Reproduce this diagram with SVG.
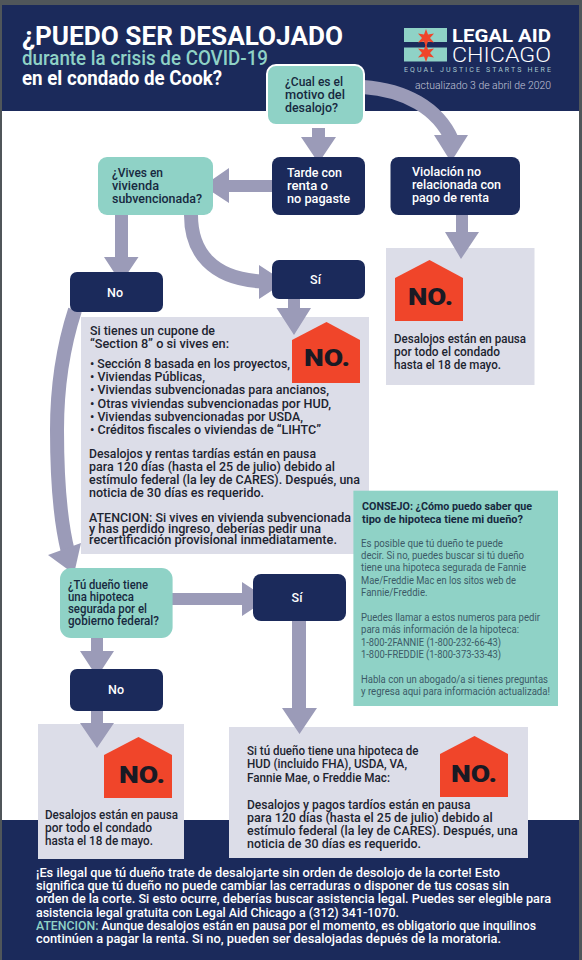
<svg xmlns="http://www.w3.org/2000/svg" width="582" height="960" viewBox="0 0 582 960">
<defs><style>
text{font-family:Roboto,"Liberation Sans",sans-serif;font-weight:500;font-size:12.500px;}
.navy{fill:#1b2a5b}
.teal{fill:#8fd2c6}
.panel{fill:#dcdde8}
.house{fill:#f0452a}
.a{fill:#9b9bb8}
.c{fill:none;stroke:#9b9bb8;stroke-width:14}
.w{fill:#fff}
.d{fill:#17293f}
.k{fill:#1d2430}
.no{font-size:24px;font-weight:900;fill:#191a24}
.tip{font-size:10.5px;font-weight:400;fill:#3c5a66}
.tb{font-size:11.5px;font-weight:700;fill:#17293f}
.f{font-size:12.5px;fill:#fff}
</style>
<g id="houseShape"><polygon class="house" points="0,18 34.500,0 68,18 68,61 0,61"/></g>
</defs>
<rect width="582" height="960" fill="#50565a"/>
<rect x="2" y="5" width="577" height="955" fill="#fff"/>

<g id="header">
<rect class="navy" x="2" y="5" width="577" height="106"/>
<text x="22" y="45" style="font-size:26px;font-weight:700" class="w" textLength="321" lengthAdjust="spacingAndGlyphs">¿PUEDO SER DESALOJADO</text>
<text x="22" y="65" style="font-size:20px;font-weight:500" fill="#8fd2c6" textLength="246" lengthAdjust="spacingAndGlyphs">durante la crisis de COVID-19</text>
<text x="22" y="85" style="font-size:20px;font-weight:700" class="w" textLength="200" lengthAdjust="spacingAndGlyphs">en el condado de Cook?</text>
</g>

<g id="logo">
<rect class="teal" x="404" y="28" width="43" height="14"/>
<rect class="teal" x="404" y="47.500" width="43" height="14"/>
<polygon class="house" points="426,29 428,34.500 434,33.500 430,38 434,42.500 428,41.500 426,47 424,41.500 418,42.500 422,38 418,33.500 424,34.500"/>
<polygon class="house" points="426,44 428,49.500 434,48.500 430,53 434,57.500 428,56.500 426,62 424,56.500 418,57.500 422,53 418,48.500 424,49.500"/>
<text x="452" y="42" style="font-size:19px;font-weight:700" class="w" textLength="99" lengthAdjust="spacingAndGlyphs">LEGAL AID</text>
<text x="452" y="62" style="font-size:20px;font-weight:300" class="w" textLength="99" lengthAdjust="spacingAndGlyphs">CHICAGO</text>
<text x="404" y="72" style="font-size:7px;font-weight:400" fill="#a9c9cf" textLength="147">EQUAL JUSTICE STARTS HERE</text>
<text x="415" y="89" style="font-size:11px;font-weight:300" fill="#c3c6d8" textLength="136" lengthAdjust="spacingAndGlyphs">actualizado 3 de abril de 2020</text>
</g>

<g id="footer">
<rect class="navy" x="2" y="820" width="577" height="140"/>
<text class="f" x="36" y="877" textLength="464" lengthAdjust="spacingAndGlyphs">¡Es ilegal que tú dueño trate de desalojarte sin orden de desolojo de la corte! Esto</text>
<text class="f" x="36" y="890" textLength="473" lengthAdjust="spacingAndGlyphs">significa que tú  dueño no puede cambiar las cerraduras o disponer de tus cosas sin</text>
<text class="f" x="36" y="903" textLength="515" lengthAdjust="spacingAndGlyphs">orden de la corte. Si esto ocurre, deberías buscar asistencia legal. Puedes ser elegible para</text>
<text class="f" x="36" y="916.500" textLength="363" lengthAdjust="spacingAndGlyphs">asistencia legal gratuita con Legal Aid Chicago a (312) 341-1070.</text>
<text class="f" x="36" y="929.700" textLength="500" lengthAdjust="spacingAndGlyphs"><tspan fill="#8fd2c6">ATENCION:</tspan> Aunque desalojos están en pausa por el momento, es obligatorio que inquilinos</text>
<text class="f" x="36" y="942.700" textLength="465" lengthAdjust="spacingAndGlyphs">continúen a pagar la renta. Si no, pueden ser desalojadas depués de la moratoria.</text>
</g>

<g id="panel-no-violacion">
<rect class="panel" x="386" y="248" width="148.500" height="137"/>
<use href="#houseShape" x="395" y="260"/>
<text class="no" x="408" y="305" textLength="45" lengthAdjust="spacingAndGlyphs">NO.</text>
<text class="k" x="394" y="343" textLength="132" lengthAdjust="spacingAndGlyphs">Desalojos están en pausa</text>
<text class="k" x="394" y="356" textLength="106" lengthAdjust="spacingAndGlyphs">por todo el condado</text>
<text class="k" x="394" y="369" textLength="107" lengthAdjust="spacingAndGlyphs">hasta el 18 de mayo.</text>
</g>

<g id="panel-subvencionada">
<rect class="panel" x="81" y="317" width="288" height="237"/>
<use href="#houseShape" x="292" y="322"/>
<text class="no" x="304" y="366" textLength="46" lengthAdjust="spacingAndGlyphs">NO.</text>
<text class="k" x="90" y="335" textLength="125" lengthAdjust="spacingAndGlyphs">Si tienes un cupone de</text>
<text class="k" x="90" y="348" textLength="139" lengthAdjust="spacingAndGlyphs">“Section 8” o si vives en:</text>
<text class="k" x="90" y="368" textLength="200" lengthAdjust="spacingAndGlyphs">• Sección 8 basada en los proyectos,</text>
<text class="k" x="90" y="381" textLength="115" lengthAdjust="spacingAndGlyphs">• Viviendas Públicas,</text>
<text class="k" x="90" y="394" textLength="239" lengthAdjust="spacingAndGlyphs">• Viviendas subvencionadas para ancianos,</text>
<text class="k" x="90" y="407.500" textLength="241" lengthAdjust="spacingAndGlyphs">• Otras viviendas subvencionadas por HUD,</text>
<text class="k" x="90" y="420.700" textLength="213" lengthAdjust="spacingAndGlyphs">• Viviendas subvencionadas por USDA,</text>
<text class="k" x="90" y="434" textLength="231" lengthAdjust="spacingAndGlyphs">• Créditos fiscales o viviendas de “LIHTC”</text>
<text class="k" x="89" y="458" textLength="227" lengthAdjust="spacingAndGlyphs">Desalojos y rentas tardías están en pausa</text>
<text class="k" x="89" y="471" textLength="246" lengthAdjust="spacingAndGlyphs">para 120 días (hasta el 25 de julio) debido al</text>
<text class="k" x="89" y="484" textLength="271" lengthAdjust="spacingAndGlyphs">estímulo federal (la ley de CARES). Después, una</text>
<text class="k" x="89" y="497" textLength="175" lengthAdjust="spacingAndGlyphs">noticia de 30 días es requerido.</text>
<text class="k" x="89" y="521.700" textLength="262" lengthAdjust="spacingAndGlyphs">ATENCION: Si vives en vivienda subvencionada</text>
<text class="k" x="89" y="532.700" textLength="232" lengthAdjust="spacingAndGlyphs">y has perdido ingreso, deberías pedir una</text>
<text class="k" x="89" y="544" textLength="248" lengthAdjust="spacingAndGlyphs">recertificación provisional inmediatamente.</text>
</g>

<g id="panel-no-federal">
<rect class="panel" x="38" y="724" width="146" height="135"/>
<use href="#houseShape" x="104" y="737"/>
<text class="no" x="119" y="783" textLength="46" lengthAdjust="spacingAndGlyphs">NO.</text>
<text class="k" x="45" y="819" textLength="133" lengthAdjust="spacingAndGlyphs">Desalojos están en pausa</text>
<text class="k" x="45" y="832" textLength="107" lengthAdjust="spacingAndGlyphs">por todo el condado</text>
<text class="k" x="45" y="845" textLength="108" lengthAdjust="spacingAndGlyphs">hasta el 18 de mayo.</text>
</g>

<g id="panel-si-federal">
<rect class="panel" x="229" y="727" width="299" height="131"/>
<use href="#houseShape" x="440" y="736"/>
<text class="no" x="451" y="782" textLength="46" lengthAdjust="spacingAndGlyphs">NO.</text>
<text class="k" x="247" y="755" textLength="171.500" lengthAdjust="spacingAndGlyphs">Si tú dueño tiene una hipoteca de</text>
<text class="k" x="247" y="768" textLength="160" lengthAdjust="spacingAndGlyphs">HUD (incluido FHA), USDA, VA,</text>
<text class="k" x="247" y="781.500" textLength="143" lengthAdjust="spacingAndGlyphs">Fannie Mae, o Freddie Mac:</text>
<text class="k" x="247" y="809" textLength="223.500" lengthAdjust="spacingAndGlyphs">Desalojos y pagos tardíos están en pausa</text>
<text class="k" x="247" y="822" textLength="245.700" lengthAdjust="spacingAndGlyphs">para 120 días (hasta el 25 de julio) debido al</text>
<text class="k" x="247" y="835" textLength="270.600" lengthAdjust="spacingAndGlyphs">estímulo federal (la ley de CARES). Después, una</text>
<text class="k" x="247" y="848" textLength="174" lengthAdjust="spacingAndGlyphs">noticia de 30 días es requerido.</text>
</g>

<g id="connectors">
<polygon class="a" points="312,128 325,128 325,137 336,137 318.500,163 301,137 312,137"/>
<polygon class="a" points="272,180 229,180 229,168 203,186 229,203 229,192 272,192"/>
<path class="c" d="M363 87 C 405 90 438 108 452 140"/>
<polygon class="a" points="434,135 468,135 451,162"/>
<polygon class="a" points="456,215 468,215 468,232 479,232 461,259 445,232 456,232"/>
<polygon class="a" points="115,215 128,215 128,257 138.500,257 121,283 104,257 115,257"/>
<path class="c" d="M191 215 C 191 252 212 279 262 281.500"/>
<polygon class="a" points="259,265 285,282 259,299"/>
<polygon class="a" points="288,299 300,299 300,308 311,308 294,335 276.500,308 288,308"/>
<path class="c" d="M75 310 C 62 350 57 395 57 430 C 57 475 60 520 68 552"/>
<polygon class="a" points="48,555 81,543 74,574"/>
<polygon class="a" points="172,593 242,593 242,582 268,599 242,616 242,605 172,605"/>
<polygon class="a" points="292,621 306,621 306,708 317,708 299.500,734 282,708 292,708"/>
<polygon class="a" points="91,638 103,638 103,651 114,651 97,677 80,651 91,651"/>
<polygon class="a" points="91,711 103,711 103,723 114,723 97,748 80,723 91,723"/>
</g>

<g id="node-motivo">
<rect class="teal" x="267" y="65" width="97" height="60" rx="9" stroke="#fff" stroke-width="2"/>
<text class="d" x="285" y="86" textLength="58" lengthAdjust="spacingAndGlyphs">¿Cual es el</text>
<text class="d" x="285" y="99" textLength="60" lengthAdjust="spacingAndGlyphs">motivo del</text>
<text class="d" x="285" y="112" textLength="53" lengthAdjust="spacingAndGlyphs">desalojo?</text>
</g>
<g id="node-tarde">
<rect class="navy" x="272" y="157" width="93" height="58" rx="8"/>
<text class="w" x="287" y="177" textLength="55" lengthAdjust="spacingAndGlyphs">Tarde con</text>
<text class="w" x="287" y="190" textLength="41" lengthAdjust="spacingAndGlyphs">renta o</text>
<text class="w" x="287" y="203" textLength="63" lengthAdjust="spacingAndGlyphs">no pagaste</text>
</g>
<g id="node-vives">
<rect class="teal" x="98" y="157" width="115" height="58" rx="9"/>
<text class="d" x="112" y="177" textLength="51" lengthAdjust="spacingAndGlyphs">¿Vives en</text>
<text class="d" x="112" y="190" textLength="47" lengthAdjust="spacingAndGlyphs">vivienda</text>
<text class="d" x="112" y="203" textLength="90" lengthAdjust="spacingAndGlyphs">subvencionada?</text>
</g>
<g id="node-violacion">
<rect class="navy" x="390.500" y="157" width="129.500" height="58" rx="8"/>
<text class="w" x="412" y="176" textLength="69" lengthAdjust="spacingAndGlyphs">Violación no</text>
<text class="w" x="412" y="189" textLength="89" lengthAdjust="spacingAndGlyphs">relacionada con</text>
<text class="w" x="412" y="202" textLength="77" lengthAdjust="spacingAndGlyphs">pago de renta</text>
</g>
<g id="node-no-1">
<rect class="navy" x="70" y="272" width="93" height="40" rx="7"/>
<text class="w" x="115" y="297" text-anchor="middle">No</text>
</g>
<g id="node-si-1">
<rect class="navy" x="272" y="260" width="93" height="39" rx="7"/>
<text class="w" x="315.500" y="284" text-anchor="middle">Sí</text>
</g>
<g id="node-federal">
<rect class="teal" x="60" y="568" width="112.600" height="70" rx="11"/>
<text class="d" x="68" y="589" textLength="80" lengthAdjust="spacingAndGlyphs">¿Tú dueño tiene</text>
<text class="d" x="68" y="601" textLength="66" lengthAdjust="spacingAndGlyphs">una hipoteca</text>
<text class="d" x="68" y="613" textLength="79" lengthAdjust="spacingAndGlyphs">segurada por el</text>
<text class="d" x="68" y="625" textLength="91" lengthAdjust="spacingAndGlyphs">gobierno federal?</text>
</g>
<g id="node-si-2">
<rect class="navy" x="253" y="574" width="93" height="47" rx="8"/>
<text class="w" x="297" y="602" text-anchor="middle">Sí</text>
</g>
<g id="node-no-2">
<rect class="navy" x="70" y="669" width="93" height="42" rx="7"/>
<text class="w" x="116" y="694" text-anchor="middle">No</text>
</g>

<g id="tip">
<rect class="teal" x="353.400" y="490.700" width="204.600" height="215.300"/>
<text class="tb" x="362" y="510" textLength="170" lengthAdjust="spacingAndGlyphs">CONSEJO: ¿Cómo puedo saber que</text>
<text class="tb" x="362" y="523" textLength="161" lengthAdjust="spacingAndGlyphs">tipo de hipoteca tiene mi dueño?</text>
<text class="tip" x="361" y="546.700" textLength="142" lengthAdjust="spacingAndGlyphs">Es posible que tú dueño te puede</text>
<text class="tip" x="361" y="559" textLength="163" lengthAdjust="spacingAndGlyphs">decir. Si no, puedes buscar si tú dueño</text>
<text class="tip" x="361" y="571.300" textLength="165" lengthAdjust="spacingAndGlyphs">tiene una hipoteca segurada de Fannie</text>
<text class="tip" x="361" y="583.700" textLength="155" lengthAdjust="spacingAndGlyphs">Mae/Freddie Mac en los sitos web de</text>
<text class="tip" x="361" y="596" textLength="66.500" lengthAdjust="spacingAndGlyphs">Fannie/Freddie.</text>
<text class="tip" x="361" y="621" textLength="179" lengthAdjust="spacingAndGlyphs">Puedes llamar a estos numeros para pedir</text>
<text class="tip" x="361" y="633.300" textLength="158" lengthAdjust="spacingAndGlyphs">para más información de la hipoteca:</text>
<text class="tip" x="361" y="645.700" textLength="140" lengthAdjust="spacingAndGlyphs">1-800-2FANNIE (1-800-232-66-43)</text>
<text class="tip" x="361" y="658" textLength="140" lengthAdjust="spacingAndGlyphs">1-800-FREDDIE (1-800-373-33-43)</text>
<text class="tip" x="361" y="682.700" textLength="187" lengthAdjust="spacingAndGlyphs">Habla con un abogado/a si tienes preguntas</text>
<text class="tip" x="361" y="695" textLength="189" lengthAdjust="spacingAndGlyphs">y regresa aqui para información actualizada!</text>
</g>
</svg>
